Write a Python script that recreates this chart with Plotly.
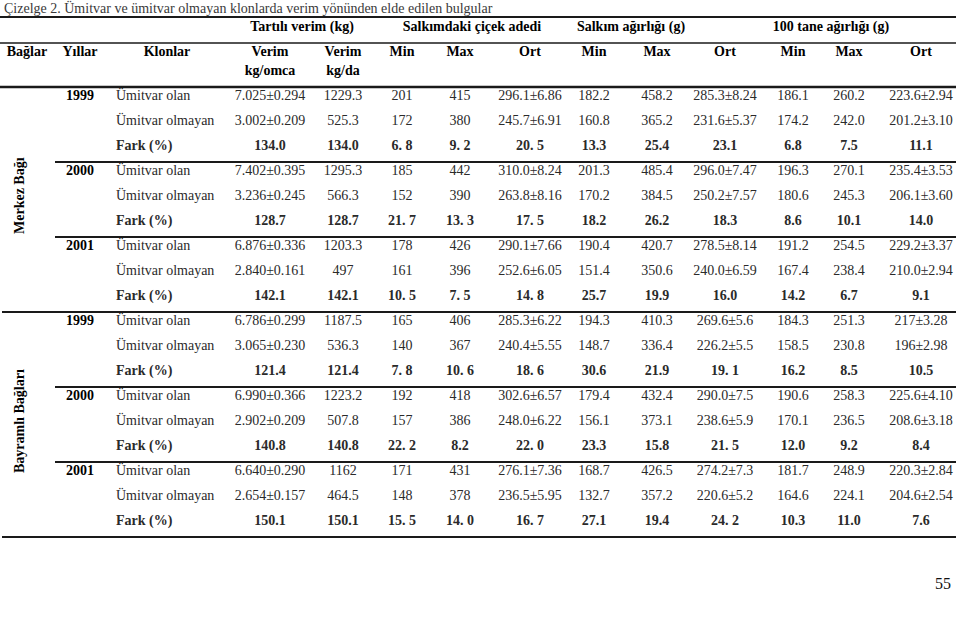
import plotly.graph_objects as go

# ---------------- data ----------------
title = "Çizelge 2. Ümitvar ve ümitvar olmayan klonlarda verim yönünden elde edilen bulgular"
vineyards = ["Merkez Bağı", "Bayramlı Bağları"]
years = ["1999", "2000", "2001"]
clones = ["Ümitvar olan", "Ümitvar olmayan", "Fark (%)"]
group_headers = ["Tartılı verim (kg)", "Salkımdaki çiçek adedi",
                 "Salkım ağırlığı (g)", "100 tane ağırlığı (g)"]
col_headers = ["Bağlar", "Yıllar", "Klonlar", "Verim", "Verim",
               "Min", "Max", "Ort", "Min", "Max", "Ort", "Min", "Max", "Ort"]
col_units = ["", "", "", "kg/omca", "kg/da",
             "", "", "", "", "", "", "", "", ""]
page_number = "55"

verim_omca = ["7.025±0.294", "3.002±0.209", "134.0",
              "7.402±0.395", "3.236±0.245", "128.7",
              "6.876±0.336", "2.840±0.161", "142.1",
              "6.786±0.299", "3.065±0.230", "121.4",
              "6.990±0.366", "2.902±0.209", "140.8",
              "6.640±0.290", "2.654±0.157", "150.1"]
verim_da = ["1229.3", "525.3", "134.0",
            "1295.3", "566.3", "128.7",
            "1203.3", "497", "142.1",
            "1187.5", "536.3", "121.4",
            "1223.2", "507.8", "140.8",
            "1162", "464.5", "150.1"]
cicek_min = ["201", "172", "6. 8",
             "185", "152", "21. 7",
             "178", "161", "10. 5",
             "165", "140", "7. 8",
             "192", "157", "22. 2",
             "171", "148", "15. 5"]
cicek_max = ["415", "380", "9. 2",
             "442", "390", "13. 3",
             "426", "396", "7. 5",
             "406", "367", "10. 6",
             "418", "386", "8.2",
             "431", "378", "14. 0"]
cicek_ort = ["296.1±6.86", "245.7±6.91", "20. 5",
             "310.0±8.24", "263.8±8.16", "17. 5",
             "290.1±7.66", "252.6±6.05", "14. 8",
             "285.3±6.22", "240.4±5.55", "18. 6",
             "302.6±6.57", "248.0±6.22", "22. 0",
             "276.1±7.36", "236.5±5.95", "16. 7"]
salkim_min = ["182.2", "160.8", "13.3",
              "201.3", "170.2", "18.2",
              "190.4", "151.4", "25.7",
              "194.3", "148.7", "30.6",
              "179.4", "156.1", "23.3",
              "168.7", "132.7", "27.1"]
salkim_max = ["458.2", "365.2", "25.4",
              "485.4", "384.5", "26.2",
              "420.7", "350.6", "19.9",
              "410.3", "336.4", "21.9",
              "432.4", "373.1", "15.8",
              "426.5", "357.2", "19.4"]
salkim_ort = ["285.3±8.24", "231.6±5.37", "23.1",
              "296.0±7.47", "250.2±7.57", "18.3",
              "278.5±8.14", "240.0±6.59", "16.0",
              "269.6±5.6", "226.2±5.5", "19. 1",
              "290.0±7.5", "238.6±5.9", "21. 5",
              "274.2±7.3", "220.6±5.2", "24. 2"]
tane_min = ["186.1", "174.2", "6.8",
            "196.3", "180.6", "8.6",
            "191.2", "167.4", "14.2",
            "184.3", "158.5", "16.2",
            "190.6", "170.1", "12.0",
            "181.7", "164.6", "10.3"]
tane_max = ["260.2", "242.0", "7.5",
            "270.1", "245.3", "10.1",
            "254.5", "238.4", "6.7",
            "251.3", "230.8", "8.5",
            "258.3", "236.5", "9.2",
            "248.9", "224.1", "11.0"]
tane_ort = ["223.6±2.94", "201.2±3.10", "11.1",
            "235.4±3.53", "206.1±3.60", "14.0",
            "229.2±3.37", "210.0±2.94", "9.1",
            "217±3.28", "196±2.98", "10.5",
            "225.6±4.10", "208.6±3.18", "8.4",
            "220.3±2.84", "204.6±2.54", "7.6"]

value_columns = [verim_omca, verim_da, cicek_min, cicek_max, cicek_ort,
                 salkim_min, salkim_max, salkim_ort, tane_min, tane_max, tane_ort]

# ---------------- layout constants ----------------
FONT = "Liberation Serif, Times New Roman, serif"
REG = "#2a2a2a"
BOLD = "#000000"
LINE = "#1a1a1a"
FS = 14

col_x = [27, 80, 167, 270, 343, 402, 460, 530, 594, 657, 725, 793, 849, 921]
clone_x = 116
group_x = [302, 472, 631, 831]
Y_GROUP = 27
Y_HEAD = 52
Y_UNIT = 71
Y_FIRST = 96
BLOCK = 75
ROW = 25

n_rows = len(vineyards) * len(years) * len(clones)
row_y = []
for i in range(n_rows):
    b, r = divmod(i, len(clones))
    row_y.append(Y_FIRST + BLOCK * b + ROW * r)


def fmt(text, i):
    return "<b>" + text + "</b>" if i % len(clones) == len(clones) - 1 else text


fig = go.Figure()

# Klonlar column
fig.add_trace(go.Scatter(
    x=[clone_x] * n_rows, y=row_y, mode="text",
    text=[fmt(clones[i % len(clones)], i) for i in range(n_rows)],
    textposition="middle right",
    textfont=dict(family=FONT, size=FS, color=REG),
    hoverinfo="skip"))

# year column
year_rows = [i for i in range(n_rows) if i % len(clones) == 0]
fig.add_trace(go.Scatter(
    x=[col_x[1]] * len(year_rows), y=[row_y[i] for i in year_rows], mode="text",
    text=["<b>" + years[(i // len(clones)) % len(years)] + "</b>" for i in year_rows],
    textposition="middle center",
    textfont=dict(family=FONT, size=FS, color=BOLD),
    hoverinfo="skip"))

# value columns
for k, col in enumerate(value_columns):
    fig.add_trace(go.Scatter(
        x=[col_x[3 + k]] * n_rows, y=row_y, mode="text",
        text=[fmt(v, i) for i, v in enumerate(col)],
        textposition="middle center",
        textfont=dict(family=FONT, size=FS, color=REG),
        hoverinfo="skip"))

# column headers
fig.add_trace(go.Scatter(
    x=col_x, y=[Y_HEAD] * len(col_x), mode="text",
    text=["<b>" + h + "</b>" for h in col_headers],
    textposition="middle center",
    textfont=dict(family=FONT, size=FS, color=BOLD), hoverinfo="skip"))
unit_idx = [i for i, u in enumerate(col_units) if u]
fig.add_trace(go.Scatter(
    x=[col_x[i] for i in unit_idx], y=[Y_UNIT] * len(unit_idx), mode="text",
    text=["<b>" + col_units[i] + "</b>" for i in unit_idx],
    textposition="middle center",
    textfont=dict(family=FONT, size=FS, color=BOLD), hoverinfo="skip"))

# group headers
fig.add_trace(go.Scatter(
    x=group_x, y=[Y_GROUP] * len(group_x), mode="text",
    text=["<b>" + g + "</b>" for g in group_headers],
    textposition="middle center",
    textfont=dict(family=FONT, size=FS, color=BOLD), hoverinfo="skip"))

annotations = [
    dict(x=2, y=8, xref="x", yref="y", text=title, showarrow=False,
         xanchor="left", yanchor="middle",
         font=dict(family=FONT, size=FS, color="#3a3a3a")),
    dict(x=943, y=583, xref="x", yref="y", text=page_number, showarrow=False,
         xanchor="center", yanchor="middle",
         font=dict(family=FONT, size=16, color="#111")),
]
block_rows = len(years) * len(clones)
for v, name in enumerate(vineyards):
    yc = (row_y[v * block_rows] + row_y[(v + 1) * block_rows - 1]) / 2
    annotations.append(dict(x=19, y=yc, xref="x", yref="y",
                            text="<b>" + name + "</b>", showarrow=False,
                            textangle=-90, xanchor="center", yanchor="middle",
                            font=dict(family=FONT, size=FS, color=BOLD)))

shapes = []


def hline(y, x0, x1, w):
    shapes.append(dict(type="line", xref="x", yref="y", x0=x0, x1=x1, y0=y, y1=y,
                       line=dict(color=LINE, width=w)))


hline(17, 0, 956, 2.2)
hline(43, 0, 956, 1.6)
hline(87, 0, 956, 2.4)
for b in range(1, len(vineyards) * len(years)):
    y = Y_FIRST + BLOCK * b - 9
    if b % len(years) == 0:
        hline(y, 2, 956, 1.8)
    else:
        hline(y, 55, 956, 1.8)
hline(537, 2, 956, 1.8)

fig.update_layout(
    width=960, height=618,
    margin=dict(l=0, r=0, t=0, b=0),
    paper_bgcolor="white", plot_bgcolor="white",
    showlegend=False,
    xaxis=dict(range=[0, 960], visible=False, fixedrange=True),
    yaxis=dict(range=[618, 0], visible=False, fixedrange=True),
    annotations=annotations, shapes=shapes,
)

# remove the browser's default 8px page margin so the figure sits at (0, 0)
fig.write_html("out.html",
               config={"displayModeBar": False},
               post_script="document.body.style.margin='0';document.body.style.overflow='hidden';")
